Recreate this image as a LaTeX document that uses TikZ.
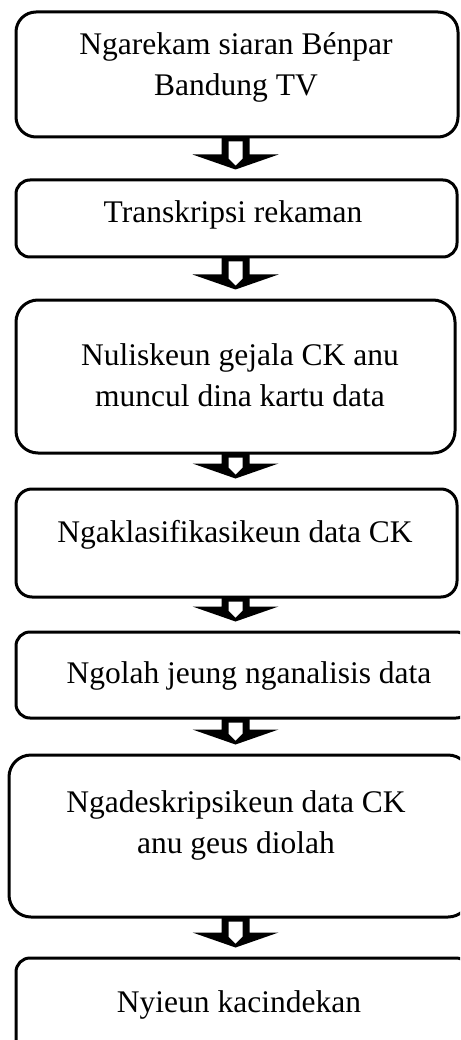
\documentclass[tikz,border=0pt]{standalone}
\usepackage{fontspec}
\setmainfont{Liberation Serif}
\usetikzlibrary{calc,backgrounds}
\begin{document}
\begin{tikzpicture}[x=1pt,y=-1pt,
  stepbox/.style={draw=black,line width=3pt,rounded corners=#1,inner sep=0pt},
  stepbox/.default=18pt,
  steptext/.style={align=center,inner sep=0pt,font=\fontsize{31.5}{41}\selectfont}]
\clip (0,0) rectangle (460,1040);
\coordinate (ax) at (235.5,0);
% boxes
\node[stepbox=20pt,minimum width=442pt,minimum height=125pt] (b1) at (237,74.5) {};
\node[stepbox=14pt,minimum width=441pt,minimum height=77pt] (b2) at (236.5,218.5) {};
\node[stepbox=22pt,minimum width=439pt,minimum height=153pt] (b3) at (235.5,376.5) {};
\node[stepbox=16pt,minimum width=441pt,minimum height=108pt] (b4) at (236.5,543) {};
\node[stepbox=14pt,minimum width=454pt,minimum height=86pt] (b5) at (243,675) {};
\node[stepbox=22pt,minimum width=461pt,minimum height=162pt] (b6) at (239.5,836) {};
\node[stepbox=14pt,minimum width=454pt,minimum height=102pt] (b7) at (243,1009) {};
% arrows (behind the boxes)
\begin{scope}[on background layer]
\fill[white] (0,0) rectangle (460,1040);
\foreach \a/\b in {b1/b2,b2/b3,b3/b4,b4/b5,b5/b6,b6/b7}{
  \fill[black] let \p1=(\a.south -| ax), \p2=(\b.north -| ax) in
    (\x1-14pt,\y1+2pt) -- (\x1-14pt,\y2+24pt) -- (\x1-43pt,\y2+24pt) -- (\x1,\y2+9pt)
    -- (\x1+43pt,\y2+24pt) -- (\x1+14pt,\y2+24pt) -- (\x1+14pt,\y1+2pt) -- cycle;
  \fill[white] let \p1=(\a.south -| ax), \p2=(\b.north -| ax) in
    (\x1-7pt,\y1-3pt) -- (\x1-7pt,\y2+20pt) -- (\x1,\y2+13pt)
    -- (\x1+7pt,\y2+20pt) -- (\x1+7pt,\y1-3pt) -- cycle;
}
\end{scope}
% texts
\node[steptext] (t1) at (236,67) {Ngarekam siaran Bénpar\\Bandung TV};
\node[steptext] (t2) at (233,215) {Transkripsi rekaman};
\node[steptext] (t3) at (240,375) {Nuliskeun gejala CK anu\\muncul dina kartu data};
\node[steptext] (t4) at (235,535) {Ngaklasifikasikeun data CK};
\node[steptext] (t5) at (249,676) {Ngolah jeung nganalisis data};
\node[steptext] (t6) at (236,825) {Ngadeskripsikeun data CK\\anu geus diolah};
\node[steptext] (t7) at (239,1005) {Nyieun kacindekan};
\end{tikzpicture}
\end{document}
